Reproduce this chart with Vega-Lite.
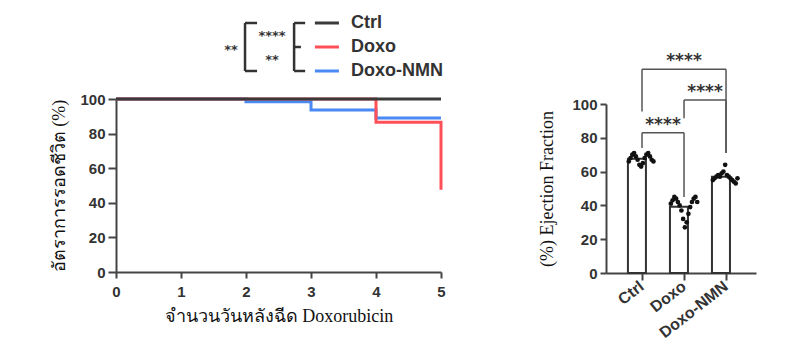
{
  "$schema": "https://vega.github.io/schema/vega-lite/v6.json",
  "background": "white",
  "padding": {"left": 50, "top": 14, "right": 5, "bottom": 5},
  "config": {
    "view": {"stroke": null},
    "axis": {
      "grid": false,
      "labelFont": "Liberation Sans",
      "labelFontWeight": "bold",
      "labelColor": "#333333",
      "labelOverlap": false,
      "domainColor": "#444444",
      "domainWidth": 2,
      "tickColor": "#444444",
      "tickWidth": 2,
      "titleFont": "Liberation Serif",
      "titleFontWeight": "normal",
      "titleColor": "#111111",
      "titleFontSize": 18
    }
  },
  "datasets": {
    "groups": [
      {"group": "Ctrl"},
      {"group": "Doxo"},
      {"group": "Doxo-NMN"}
    ],
    "logrank": [
      {"g1": "Ctrl", "g2": "Doxo", "label": "****"},
      {"g1": "Doxo", "g2": "Doxo-NMN", "label": "**"},
      {"g1": "Ctrl", "g2": "Doxo-NMN", "label": "**"}
    ],
    "km": [
      {"group": "Ctrl", "day": 0, "survival": 100},
      {"group": "Ctrl", "day": 5, "survival": 100},
      {"group": "Doxo", "day": 0, "survival": 100},
      {"group": "Doxo", "day": 4, "survival": 86.5},
      {"group": "Doxo", "day": 5, "survival": 47.5},
      {"group": "Doxo-NMN", "day": 0, "survival": 100},
      {"group": "Doxo-NMN", "day": 2, "survival": 98.4},
      {"group": "Doxo-NMN", "day": 3, "survival": 93.6},
      {"group": "Doxo-NMN", "day": 4, "survival": 89},
      {"group": "Doxo-NMN", "day": 5, "survival": 89}
    ],
    "ef": [
      {"group": "Ctrl", "rep": 1, "ef": 66}, {"group": "Ctrl", "rep": 2, "ef": 68}, {"group": "Ctrl", "rep": 3, "ef": 70},
      {"group": "Ctrl", "rep": 4, "ef": 71}, {"group": "Ctrl", "rep": 5, "ef": 69}, {"group": "Ctrl", "rep": 6, "ef": 67},
      {"group": "Ctrl", "rep": 7, "ef": 64}, {"group": "Ctrl", "rep": 8, "ef": 63}, {"group": "Ctrl", "rep": 9, "ef": 65},
      {"group": "Ctrl", "rep": 10, "ef": 68}, {"group": "Ctrl", "rep": 11, "ef": 70}, {"group": "Ctrl", "rep": 12, "ef": 71},
      {"group": "Ctrl", "rep": 13, "ef": 69}, {"group": "Ctrl", "rep": 14, "ef": 67}, {"group": "Ctrl", "rep": 15, "ef": 66},
      {"group": "Doxo", "rep": 1, "ef": 41}, {"group": "Doxo", "rep": 2, "ef": 43}, {"group": "Doxo", "rep": 3, "ef": 45},
      {"group": "Doxo", "rep": 4, "ef": 44}, {"group": "Doxo", "rep": 5, "ef": 42}, {"group": "Doxo", "rep": 6, "ef": 40},
      {"group": "Doxo", "rep": 7, "ef": 37}, {"group": "Doxo", "rep": 8, "ef": 32}, {"group": "Doxo", "rep": 9, "ef": 27},
      {"group": "Doxo", "rep": 10, "ef": 30}, {"group": "Doxo", "rep": 11, "ef": 35}, {"group": "Doxo", "rep": 12, "ef": 39},
      {"group": "Doxo", "rep": 13, "ef": 42}, {"group": "Doxo", "rep": 14, "ef": 44}, {"group": "Doxo", "rep": 15, "ef": 45},
      {"group": "Doxo", "rep": 16, "ef": 42},
      {"group": "Doxo-NMN", "rep": 1, "ef": 55}, {"group": "Doxo-NMN", "rep": 2, "ef": 56}, {"group": "Doxo-NMN", "rep": 3, "ef": 57},
      {"group": "Doxo-NMN", "rep": 4, "ef": 58}, {"group": "Doxo-NMN", "rep": 5, "ef": 57}, {"group": "Doxo-NMN", "rep": 6, "ef": 59},
      {"group": "Doxo-NMN", "rep": 7, "ef": 60}, {"group": "Doxo-NMN", "rep": 8, "ef": 64}, {"group": "Doxo-NMN", "rep": 9, "ef": 58},
      {"group": "Doxo-NMN", "rep": 10, "ef": 57}, {"group": "Doxo-NMN", "rep": 11, "ef": 56}, {"group": "Doxo-NMN", "rep": 12, "ef": 55},
      {"group": "Doxo-NMN", "rep": 13, "ef": 54}, {"group": "Doxo-NMN", "rep": 14, "ef": 53}, {"group": "Doxo-NMN", "rep": 15, "ef": 56}
    ],
    "tests": [
      {"g1": "Ctrl", "g2": "Doxo", "top": 83, "leg1": 74, "leg2": 45, "label": "****"},
      {"g1": "Doxo", "g2": "Doxo-NMN", "top": 102.4, "leg1": 91.5, "leg2": 71, "label": "****"},
      {"g1": "Ctrl", "g2": "Doxo-NMN", "top": 120.5, "leg1": 95.5, "leg2": 71, "label": "****"}
    ]
  },
  "bounds": "flush",
  "spacing": 165,
  "hconcat": [
    {
      "width": 325,
      "height": 173,
      "resolve": {"scale": {"x": "independent", "y": "independent"}},
      "layer": [
        {
          "data": {"name": "km"},
          "encoding": {
            "x": {
              "field": "day", "type": "quantitative",
              "scale": {"domain": [0, 5], "nice": false},
              "axis": {"values": [0, 1, 2, 3, 4, 5], "labelFlush": false, "labelFontSize": 15, "tickSize": 6, "labelPadding": 6, "title": "จำนวนวันหลังฉีด Doxorubicin", "titlePadding": 8}
            },
            "y": {
              "field": "survival", "type": "quantitative",
              "scale": {"domain": [0, 100], "nice": false},
              "axis": {"values": [0, 20, 40, 60, 80, 100], "labelFlush": false, "labelOverlap": false, "labelFontSize": 15, "tickSize": 8, "labelPadding": 3, "title": "อัตราการรอดชีวิต (%)", "titlePadding": 11}
            },
            "color": {"field": "group", "type": "nominal", "scale": {"domain": ["Ctrl", "Doxo", "Doxo-NMN"], "range": ["#3a3a3a", "#ff4f58", "#4a8af4"]}, "legend": null}
          },
          "layer": [
            {"transform": [{"filter": "datum.group === 'Doxo-NMN'"}], "mark": {"type": "line", "interpolate": "step-after", "strokeWidth": 3}},
            {"transform": [{"filter": "datum.group === 'Doxo'"}], "mark": {"type": "line", "interpolate": "step-after", "strokeWidth": 3}},
            {"transform": [{"filter": "datum.group === 'Ctrl'"}], "mark": {"type": "line", "interpolate": "step-after", "strokeWidth": 3}}
          ]
        },
        {
          "layer": [
            {
              "data": {"name": "groups"},
              "mark": {"type": "rule", "strokeWidth": 3},
              "encoding": {
                "x": {"datum": 6.12, "type": "quantitative", "scale": {"domain": [0, 10]}, "axis": null},
                "x2": {"datum": 6.86},
                "y": {"field": "group", "type": "nominal", "scale": {"type": "point", "domain": ["Ctrl", "Doxo", "Doxo-NMN"], "range": [-76, -28], "padding": 0}, "axis": null},
                "color": {"field": "group", "type": "nominal", "scale": {"domain": ["Ctrl", "Doxo", "Doxo-NMN"], "range": ["#3a3a3a", "#ff4f58", "#4a8af4"]}, "legend": null}
              }
            },
            {
              "data": {"name": "groups"},
              "mark": {"type": "text", "align": "left", "baseline": "middle", "font": "Liberation Sans", "fontWeight": "bold", "fontSize": 18, "color": "#333333"},
              "encoding": {
                "x": {"datum": 7.23, "type": "quantitative"},
                "y": {"field": "group", "type": "nominal"},
                "text": {"field": "group"}
              }
            },
            {
              "data": {"name": "logrank"},
              "transform": [{"filter": "datum.g1 === 'Ctrl' && datum.g2 === 'Doxo-NMN'"}],
              "mark": {"type": "rule", "strokeWidth": 2.5, "color": "#333333"},
              "encoding": {
                "x": {"datum": 3.97, "type": "quantitative"},
                "y": {"field": "g1", "type": "nominal"},
                "y2": {"field": "g2"}
              }
            },
            {
              "data": {"name": "groups"},
              "transform": [{"filter": "datum.group !== 'Doxo'"}],
              "mark": {"type": "rule", "strokeWidth": 2.5, "color": "#333333"},
              "encoding": {
                "x": {"datum": 3.97, "type": "quantitative"},
                "x2": {"datum": 4.34},
                "y": {"field": "group", "type": "nominal"}
              }
            },
            {
              "data": {"name": "logrank"},
              "transform": [{"filter": "datum.g1 === 'Ctrl' && datum.g2 === 'Doxo-NMN'"}],
              "mark": {"type": "rule", "strokeWidth": 2.5, "color": "#333333"},
              "encoding": {
                "x": {"datum": 5.48, "type": "quantitative"},
                "y": {"field": "g1", "type": "nominal"},
                "y2": {"field": "g2"}
              }
            },
            {
              "data": {"name": "groups"},
              "transform": [{"filter": "datum.group !== 'Doxo'"}],
              "mark": {"type": "rule", "strokeWidth": 2.5, "color": "#333333"},
              "encoding": {
                "x": {"datum": 5.48, "type": "quantitative"},
                "x2": {"datum": 5.82},
                "y": {"field": "group", "type": "nominal"}
              }
            },
            {
              "data": {"name": "groups"},
              "transform": [{"filter": "datum.group === 'Doxo'"}],
              "mark": {"type": "rule", "strokeWidth": 2.5, "color": "#333333"},
              "encoding": {
                "x": {"datum": 5.48, "type": "quantitative"},
                "x2": {"datum": 5.69},
                "y": {"field": "group", "type": "nominal"}
              }
            },
            {
              "data": {"name": "logrank"},
              "transform": [{"filter": "!(datum.g1 === 'Ctrl' && datum.g2 === 'Doxo-NMN')"}],
              "mark": {"type": "text", "align": "center", "baseline": "alphabetic", "dy": 17, "font": "DejaVu Sans", "fontWeight": "bold", "fontSize": 13, "color": "#333333"},
              "encoding": {
                "x": {"datum": 4.8, "type": "quantitative"},
                "y": {"field": "g1", "type": "nominal"},
                "text": {"field": "label"}
              }
            },
            {
              "data": {"name": "logrank"},
              "transform": [{"filter": "datum.g1 === 'Ctrl' && datum.g2 === 'Doxo-NMN'"}],
              "mark": {"type": "text", "align": "center", "baseline": "alphabetic", "dy": 31, "font": "DejaVu Sans", "fontWeight": "bold", "fontSize": 13, "color": "#333333"},
              "encoding": {
                "x": {"datum": 3.54, "type": "quantitative"},
                "y": {"field": "g1", "type": "nominal"},
                "text": {"field": "label"}
              }
            }
          ]
        }
      ]
    },
    {
      "width": 150,
      "height": 174,
      "encoding": {
        "y": {
          "type": "quantitative",
          "scale": {"domain": [0, 100], "range": [174, 5], "nice": false},
          "axis": {"values": [0, 20, 40, 60, 80, 100], "tickCount": 6, "labelOverlap": false, "labelFlush": false, "labelFontSize": 15, "tickSize": 6, "labelPadding": 3, "title": "(%) Ejection Fraction", "titlePadding": 15}
        }
      },
      "layer": [
        {
          "data": {"name": "ef"},
          "mark": {"type": "bar", "fill": "white", "stroke": "#333333", "strokeWidth": 2},
          "encoding": {
            "x": {
              "field": "group", "type": "nominal",
              "scale": {"domain": ["Ctrl", "Doxo", "Doxo-NMN"], "paddingInner": 0.33, "paddingOuter": 0.45, "align": 0.58},
              "axis": {"title": null, "labelAngle": -38, "labelAlign": "right", "labelBaseline": "middle", "labelFontSize": 16, "tickSize": 7, "labelPadding": 4}
            },
            "y": {"aggregate": "mean", "field": "ef", "type": "quantitative"}
          }
        },
        {
          "data": {"name": "ef"},
          "mark": {"type": "circle", "size": 22, "color": "#111111", "opacity": 1},
          "encoding": {
            "x": {"field": "group", "type": "nominal"},
            "xOffset": {"field": "rep", "type": "nominal"},
            "y": {"field": "ef", "type": "quantitative"}
          }
        },
        {
          "data": {"name": "tests"},
          "mark": {"type": "rule", "strokeWidth": 1.5, "color": "#555555"},
          "encoding": {
            "x": {"field": "g1", "type": "nominal", "bandPosition": 0.5},
            "x2": {"field": "g2", "bandPosition": 0.5},
            "y": {"field": "top", "type": "quantitative"}
          }
        },
        {
          "data": {"name": "tests"},
          "mark": {"type": "rule", "strokeWidth": 1.5, "color": "#555555"},
          "encoding": {
            "x": {"field": "g1", "type": "nominal", "bandPosition": 0.5},
            "y": {"field": "leg1", "type": "quantitative"},
            "y2": {"field": "top"}
          }
        },
        {
          "data": {"name": "tests"},
          "mark": {"type": "rule", "strokeWidth": 1.5, "color": "#555555"},
          "encoding": {
            "x": {"field": "g2", "type": "nominal", "bandPosition": 0.5},
            "y": {"field": "leg2", "type": "quantitative"},
            "y2": {"field": "top"}
          }
        },
        {
          "data": {"name": "tests"},
          "transform": [{"filter": "datum.g1 !== 'Ctrl' || datum.g2 !== 'Doxo-NMN'"}],
          "mark": {"type": "text", "align": "center", "baseline": "alphabetic", "dx": 21, "dy": -3, "font": "DejaVu Sans", "fontWeight": "bold", "fontSize": 17, "color": "#333333"},
          "encoding": {
            "x": {"field": "g1", "type": "nominal", "bandPosition": 0.5},
            "y": {"field": "top", "type": "quantitative"},
            "text": {"field": "label"}
          }
        },
        {
          "data": {"name": "tests"},
          "transform": [{"filter": "datum.g1 === 'Ctrl' && datum.g2 === 'Doxo-NMN'"}],
          "mark": {"type": "text", "align": "center", "baseline": "alphabetic", "dx": 42, "dy": -3, "font": "DejaVu Sans", "fontWeight": "bold", "fontSize": 17, "color": "#333333"},
          "encoding": {
            "x": {"field": "g1", "type": "nominal", "bandPosition": 0.5},
            "y": {"field": "top", "type": "quantitative"},
            "text": {"field": "label"}
          }
        }
      ]
    }
  ]
}
